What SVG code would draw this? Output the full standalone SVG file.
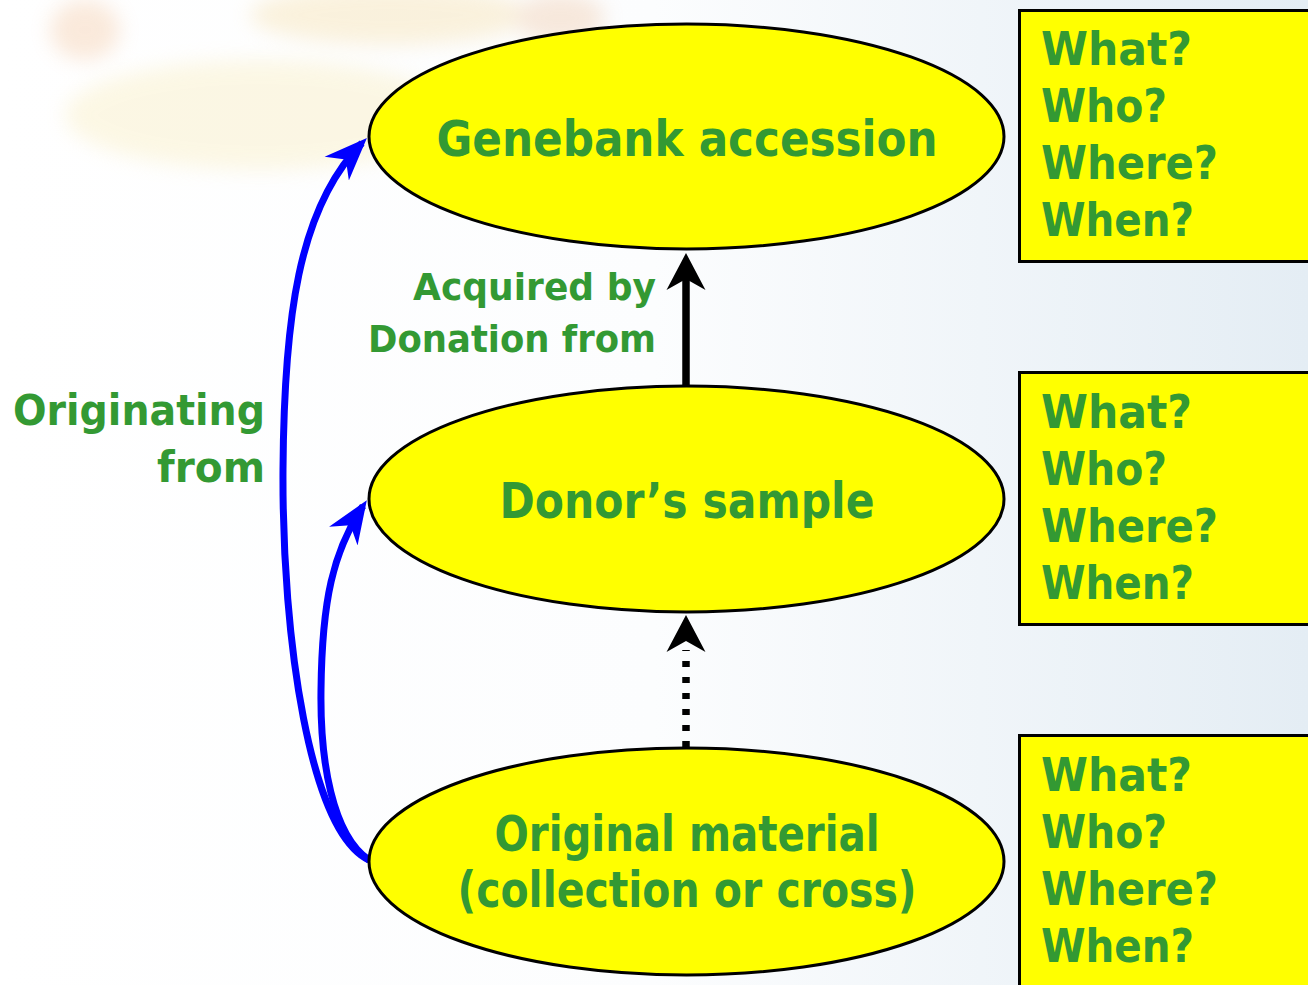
<svg xmlns="http://www.w3.org/2000/svg" width="1308" height="985" viewBox="0 0 1308 985">
<defs>
<linearGradient id="bg" x1="0" y1="0" x2="1" y2="0">
<stop offset="0" stop-color="#ffffff"/>
<stop offset="0.5" stop-color="#fcfdfe"/>
<stop offset="1" stop-color="#e4edf4"/>
</linearGradient>
<filter id="blur" x="-30%" y="-80%" width="160%" height="260%"><feGaussianBlur stdDeviation="10"/></filter>
<marker id="ablack" viewBox="0 0 40 40" refX="26" refY="20" markerWidth="40" markerHeight="40" markerUnits="userSpaceOnUse" orient="auto">
<path d="M37,20 L0,0.5 L11,20 L0,39.5 Z" fill="#000"/>
</marker>
<marker id="ablue" viewBox="0 0 44 36" refX="36" refY="18" markerWidth="44" markerHeight="36" markerUnits="userSpaceOnUse" orient="auto">
<path d="M43,18 L0,1 L13,18 L0,35 Z" fill="#0000ff"/>
</marker>
<style>
.node{fill:#ffff00;stroke:#000;stroke-width:3}
.box{fill:#ffff00;stroke:#000;stroke-width:3}
.t{font-family:"Comic Sans MS","DejaVu Sans",sans-serif;font-weight:bold;fill:#339933}
.big{font-size:50px}
.q{font-size:46px}
.lbl{font-size:38px}
.blue{fill:none;stroke:#0000ff;stroke-width:7}
</style>
</defs>
<rect x="0" y="0" width="1308" height="985" fill="url(#bg)"/>
<g id="background-flower" opacity="0.3" filter="url(#blur)">
<ellipse cx="260" cy="115" rx="195" ry="55" fill="#f7e7a8"/>
<ellipse cx="85" cy="30" rx="35" ry="30" fill="#f0b98a"/>
<ellipse cx="390" cy="15" rx="140" ry="30" fill="#f3d590"/>
<ellipse cx="560" cy="18" rx="45" ry="25" fill="#eab88e"/>
</g>
<g id="connectors">
<line x1="686" y1="385" x2="686" y2="264" stroke="#000" stroke-width="7.5" marker-end="url(#ablack)"/>
<line x1="686" y1="747" x2="686" y2="650" stroke="#000" stroke-width="7.5" stroke-dasharray="6,10"/>
<line x1="686" y1="640" x2="686" y2="626" stroke="#000" stroke-width="0.1" marker-end="url(#ablack)"/>
<path class="blue" d="M369,860 C310,832 282,640 283,470 C284,320 298,208 362,143" marker-end="url(#ablue)"/>
<path class="blue" d="M369,860 C332,835 320,760 321,690 C322,600 333,552 363,506" marker-end="url(#ablue)"/>
<text class="t lbl" x="656" y="300" text-anchor="end" textLength="243" lengthAdjust="spacingAndGlyphs">Acquired by</text>
<text class="t lbl" x="656" y="352" text-anchor="end" textLength="288" lengthAdjust="spacingAndGlyphs">Donation from</text>
<text class="t lbl" x="265" y="425" text-anchor="end" textLength="252" lengthAdjust="spacingAndGlyphs" style="font-size:42px">Originating</text>
<text class="t lbl" x="265" y="482" text-anchor="end" textLength="108" lengthAdjust="spacingAndGlyphs" style="font-size:42px">from</text>
</g>
<g id="node-genebank">
<ellipse class="node" cx="686.5" cy="136.5" rx="317.5" ry="112.5"/>
<text class="t big" x="687" y="156" text-anchor="middle" textLength="501" lengthAdjust="spacingAndGlyphs">Genebank accession</text>
</g>
<g id="node-donor">
<ellipse class="node" cx="686.5" cy="499" rx="317.5" ry="113"/>
<text class="t big" x="687" y="518" text-anchor="middle" textLength="375" lengthAdjust="spacingAndGlyphs">Donor’s sample</text>
</g>
<g id="node-original">
<ellipse class="node" cx="686.5" cy="861.5" rx="317.5" ry="113.5"/>
<text class="t big" x="687" y="851" text-anchor="middle" textLength="385" lengthAdjust="spacingAndGlyphs">Original material</text>
<text class="t big" x="687" y="907" text-anchor="middle" textLength="459" lengthAdjust="spacingAndGlyphs">(collection or cross)</text>
</g>
<g id="box-genebank">
<rect class="box" x="1019.5" y="10.5" width="300" height="251"/>
<text class="t q" x="1041" y="65" textLength="151" lengthAdjust="spacingAndGlyphs">What?</text>
<text class="t q" x="1041" y="122" textLength="126" lengthAdjust="spacingAndGlyphs">Who?</text>
<text class="t q" x="1041" y="179" textLength="177" lengthAdjust="spacingAndGlyphs">Where?</text>
<text class="t q" x="1041" y="236" textLength="153" lengthAdjust="spacingAndGlyphs">When?</text>
</g>
<g id="box-donor">
<rect class="box" x="1019.5" y="372.5" width="300" height="252"/>
<text class="t q" x="1041" y="428" textLength="151" lengthAdjust="spacingAndGlyphs">What?</text>
<text class="t q" x="1041" y="485" textLength="126" lengthAdjust="spacingAndGlyphs">Who?</text>
<text class="t q" x="1041" y="542" textLength="177" lengthAdjust="spacingAndGlyphs">Where?</text>
<text class="t q" x="1041" y="599" textLength="153" lengthAdjust="spacingAndGlyphs">When?</text>
</g>
<g id="box-original">
<rect class="box" x="1019.5" y="735.5" width="300" height="270"/>
<text class="t q" x="1041" y="791" textLength="151" lengthAdjust="spacingAndGlyphs">What?</text>
<text class="t q" x="1041" y="848" textLength="126" lengthAdjust="spacingAndGlyphs">Who?</text>
<text class="t q" x="1041" y="905" textLength="177" lengthAdjust="spacingAndGlyphs">Where?</text>
<text class="t q" x="1041" y="962" textLength="153" lengthAdjust="spacingAndGlyphs">When?</text>
</g>
</svg>
